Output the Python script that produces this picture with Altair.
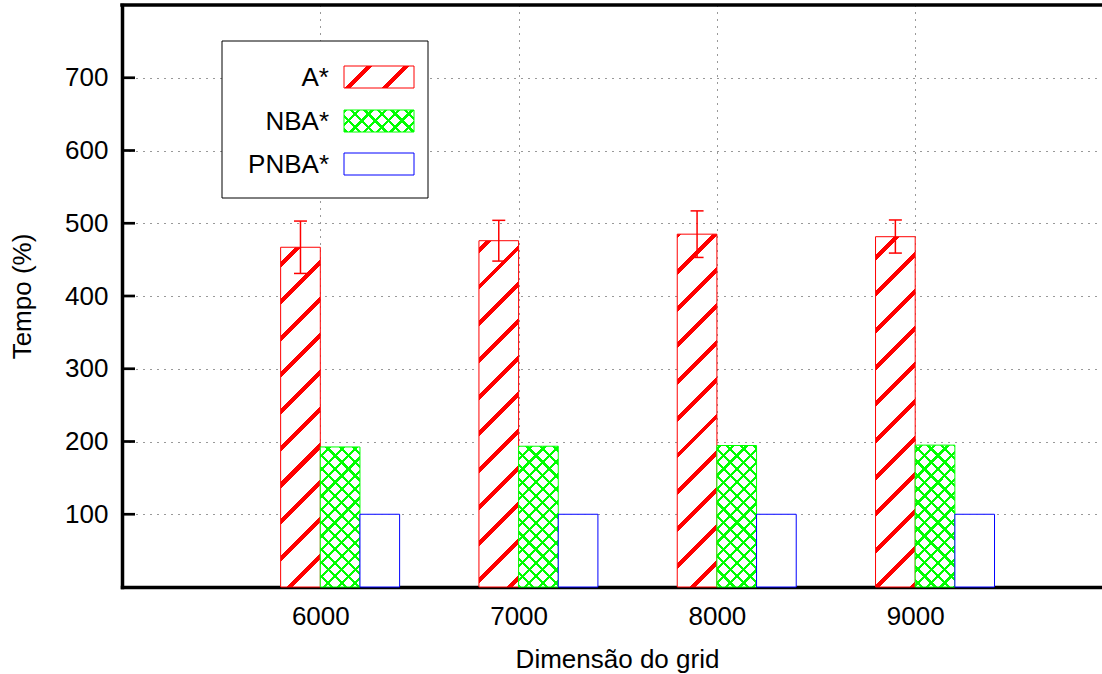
import altair as alt
import pandas as pd

# ---- data -------------------------------------------------------------
dims = [6000, 7000, 8000, 9000]
series = ["A*", "NBA*", "PNBA*"]
a_star = [467, 476, 485, 481.5]
a_star_hi = [503, 504, 517, 504.5]
a_star_lo = [431, 448, 453, 459]
nba_star = [192.5, 193.5, 194.5, 195]
pnba_star = [100, 100, 100, 100]
y_ticks = [100, 200, 300, 400, 500, 600, 700]

# ---- layout / style ---------------------------------------------------
FONT = "Liberation Sans"
FS = 26
PAD_L, PAD_T, PAD_B = 122, 5, 87
W, H = 980, 582
X_MIN, X_MAX = 5000, 9942
Y_MAX = 800
BAR = 200  # bar width in x units
RED, GREEN, BLUE = "#ff0000", "#00ff00", "#0000ff"

px_x = W / (X_MAX - X_MIN)
px_y = H / Y_MAX

rows = []
for vals, name, k in [(a_star, "A*", 0), (nba_star, "NBA*", 1), (pnba_star, "PNBA*", 2)]:
    for d, v in zip(dims, vals):
        x0 = d + (k - 1) * BAR
        rows.append({"dim": d, "series": name, "value": v, "x0": x0, "x1": x0 + BAR, "zero": 0})
bars = pd.DataFrame(rows)

err = pd.DataFrame({"dim": dims, "lo": a_star_lo, "hi": a_star_hi})
err["xc"] = err["dim"] - BAR / 2
cap = 6.5 / px_x
err["cl"] = err["xc"] - cap
err["cr"] = err["xc"] + cap

ticks_df = pd.DataFrame({"tick": y_ticks})


def stripes(w, h, x_abs, y_abs, period, half, phase, color, back, flip=False):
    """Linear gradient drawing 45-degree hatch lines inside a w x h box."""
    span = w + h
    k = w * w + h * h
    a = span * w / k
    b = span * h / k
    if not flip:
        x1, y1, x2, y2 = 0, 0, a, b
        start = x_abs + y_abs
    else:
        x1, y1, x2, y2 = 1, 0, 1 - a, b
        start = y_abs - x_abs - w
    c = ((phase - start) % period) - period
    stops = []
    while c - half < span:
        lo = max(0.0, (c - half) / span)
        hi = min(1.0, (c + half) / span)
        if hi > 0 and lo < 1:
            stops += [
                {"offset": round(lo, 5), "color": back},
                {"offset": round(lo, 5), "color": color},
                {"offset": round(hi, 5), "color": color},
                {"offset": round(hi, 5), "color": back},
            ]
        c += period
    return {"gradient": "linear", "x1": x1, "y1": y1, "x2": x2, "y2": y2, "stops": stops}


def hatch_a(w, h, xa, ya):
    return stripes(w, h, xa, ya, 36.7, 3.0, 32, RED, "#ffffff")


def hatch_n1(w, h, xa, ya):
    return stripes(w, h, xa, ya, 13.4, 1.6, 0, GREEN, "#ffffff")


def hatch_n2(w, h, xa, ya):
    return stripes(w, h, xa, ya, 13.4, 1.6, 0, GREEN, "rgba(255,255,255,0)", flip=True)


x_scale = alt.Scale(domain=[X_MIN, X_MAX], nice=False, zero=False)
y_scale = alt.Scale(domain=[0, Y_MAX], nice=False)

grid_style = dict(grid=True, gridDash=[1, 6], gridColor="#333333", gridWidth=1,
                  domainColor="black", domainWidth=3.5, domainCap="square",
                  ticks=False, tickSize=0, labelFont=FONT, labelFontSize=FS,
                  labelColor="black", labelOverlap=False, titleFont=FONT,
                  titleFontSize=FS, titleFontWeight="normal", titleColor="black")

x_axis = alt.Axis(values=dims, format="d", labelPadding=16, labelFlush=False,
                  title="Dimensão do grid", titleX=W / 2 + 5, titleY=80,
                  titleBaseline="alphabetic", **grid_style)
y_axis = alt.Axis(values=y_ticks, labelPadding=14, title="Tempo (%)",
                  titleX=-100, titleY=H / 2, titleBaseline="middle", **grid_style)


def X(f):
    return alt.X(f, type="quantitative", scale=x_scale, axis=x_axis)


def Y(f):
    return alt.Y(f, type="quantitative", scale=y_scale, axis=y_axis)


layers = []

# bars
for name in series:
    for d in dims:
        r = bars[(bars.series == name) & (bars.dim == d)].iloc[0]
        w = BAR * px_x
        h = r.value * px_y
        xa = PAD_L + (r.x0 - X_MIN) * px_x
        ya = PAD_T + (Y_MAX - r.value) * px_y
        base = alt.Chart(bars).transform_filter(
            (alt.datum.series == name) & (alt.datum.dim == d)
        ).encode(x=X("x0"), x2="x1", y=Y("value"), y2="zero")
        if name == "A*":
            layers.append(base.mark_bar(fill=hatch_a(w, h, xa, ya), stroke=RED, strokeWidth=1))
        elif name == "NBA*":
            layers.append(base.mark_bar(fill=hatch_n1(w, h, xa, ya), stroke=GREEN, strokeWidth=1))
            layers.append(base.mark_bar(fill=hatch_n2(w, h, xa, ya), strokeWidth=0))
        else:
            layers.append(base.mark_bar(fill="#ffffff", stroke=BLUE, strokeWidth=1))

# error bars on A*
eb = alt.Chart(err)
layers.append(eb.mark_rule(color=RED, strokeWidth=1.5).encode(x=X("xc"), y=Y("lo"), y2="hi"))
layers.append(eb.mark_rule(color=RED, strokeWidth=1.5).encode(x=X("cl"), x2="cr", y=Y("hi")))
layers.append(eb.mark_rule(color=RED, strokeWidth=1.5).encode(x=X("cl"), x2="cr", y=Y("lo")))

# inward tick marks on the left border and the top border line
layers.append(alt.Chart(ticks_df).mark_rule(color="black", strokeWidth=2.7).encode(
    y=Y("tick"), x=alt.value(0), x2=alt.value(13)))
layers.append(alt.Chart(pd.DataFrame({"k": [0]})).mark_rule(
    color="black", strokeWidth=3.5).encode(
    x=alt.value(-1.75), x2=alt.value(W), y=alt.value(0)))

# legend
one = pd.DataFrame({"k": [0]})
layers.append(alt.Chart(one).mark_rect(fill="white", stroke="black", strokeWidth=1).encode(
    x=alt.value(100), x2=alt.value(306), y=alt.value(36), y2=alt.value(193)))

SW_X0, SW_X1, SW_H = 222, 292, 22
rows_y = {"A*": 61, "NBA*": 105, "PNBA*": 148}
for name in series:
    y0 = rows_y[name]
    pos = dict(x=alt.value(SW_X0), x2=alt.value(SW_X1), y=alt.value(y0), y2=alt.value(y0 + SW_H))
    w, h = SW_X1 - SW_X0, SW_H
    xa, ya = PAD_L + SW_X0, PAD_T + y0
    sw = alt.Chart(one)
    if name == "A*":
        layers.append(sw.mark_rect(fill=hatch_a(w, h, xa, ya), stroke=RED, strokeWidth=1).encode(**pos))
    elif name == "NBA*":
        layers.append(sw.mark_rect(fill=hatch_n1(w, h, xa, ya), stroke=GREEN, strokeWidth=1).encode(**pos))
        layers.append(sw.mark_rect(fill=hatch_n2(w, h, xa, ya), strokeWidth=0).encode(**pos))
    else:
        layers.append(sw.mark_rect(fill="white", stroke=BLUE, strokeWidth=1).encode(**pos))
    layers.append(sw.mark_text(text=name, align="right", baseline="middle", font=FONT,
                               fontSize=FS, color="black").encode(
        x=alt.value(207), y=alt.value(y0 + SW_H / 2 + 1)))

chart = alt.layer(*layers).properties(
    width=W, height=H,
    autosize=alt.AutoSizeParams(type="none"),
    padding={"left": PAD_L, "top": PAD_T, "right": 0, "bottom": PAD_B},
    background="white",
).configure_view(strokeWidth=0, stroke="transparent")

chart.save("out.html", embed_options={"renderer": "svg", "actions": False})
